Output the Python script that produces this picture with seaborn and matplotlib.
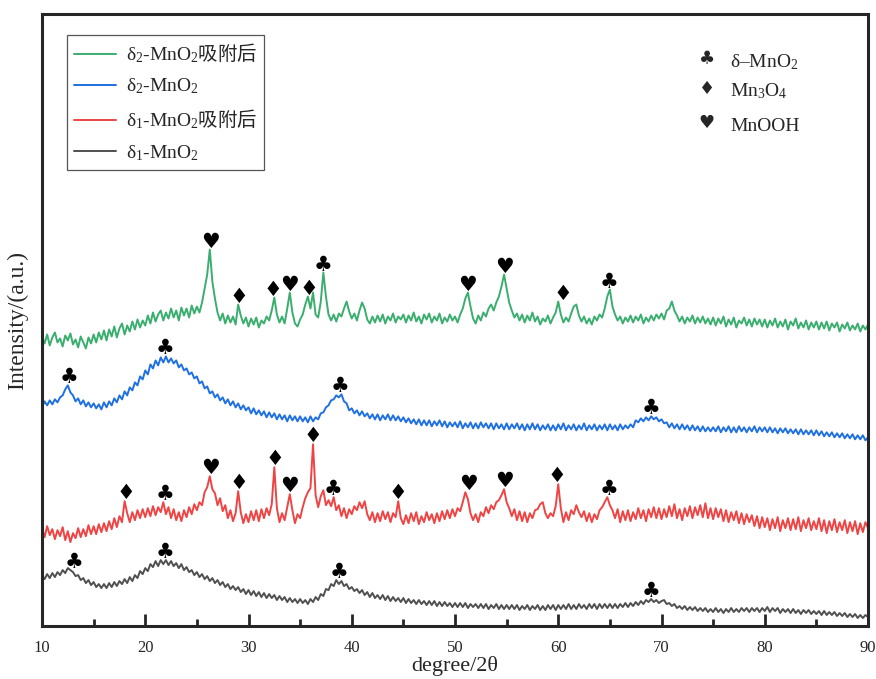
import numpy as np
import pandas as pd
import matplotlib
matplotlib.use('Agg')
import matplotlib.pyplot as plt
import seaborn as sns

# 2theta sampling grid (0.25 degree steps, 10..90)
two_theta = np.linspace(10, 90, 321)

# intensities (a.u., offset stacked), one row = 5 degrees
green_vals = [
    290, 283, 292, 281, 289, 294, 284, 288, 280, 291, 286, 293, 282, 287, 279, 290, 284, 278, 289, 283,
    292, 284, 294, 287, 296, 286, 297, 290, 300, 289, 298, 303, 292, 301, 295, 305, 297, 307, 299, 306,
    301, 311, 303, 314, 305, 312, 316, 306, 314, 308, 318, 309, 316, 306, 319, 311, 318, 309, 321, 313,
    320, 314, 324, 338, 352, 377, 345, 328, 314, 306, 313, 303, 311, 304, 310, 302, 322, 311, 303, 309,
    300, 308, 302, 309, 299, 306, 303, 310, 306, 316, 329, 312, 304, 310, 303, 318, 334, 314, 303, 300,
    307, 312, 322, 330, 318, 334, 312, 309, 325, 354, 330, 312, 306, 312, 305, 313, 310, 318, 325, 315,
    308, 313, 306, 316, 324, 318, 307, 303, 310, 304, 311, 305, 312, 303, 310, 306, 313, 304, 310, 307,
    312, 304, 311, 306, 314, 305, 310, 303, 312, 307, 313, 304, 310, 306, 313, 303, 309, 305, 312, 306,
    310, 304, 312, 318, 328, 334, 320, 308, 303, 311, 306, 314, 310, 318, 322, 316, 324, 330, 340, 352,
    338, 324, 316, 309, 313, 306, 312, 304, 311, 306, 314, 305, 310, 302, 308, 305, 311, 303, 309, 314,
    325, 312, 304, 309, 305, 313, 320, 322, 311, 305, 310, 303, 308, 302, 310, 306, 312, 309, 318, 330,
    337, 320, 312, 306, 310, 303, 309, 305, 311, 304, 310, 306, 312, 303, 309, 305, 311, 306, 312, 308,
    313, 307, 316, 318, 325, 316, 311, 305, 310, 303, 309, 305, 311, 303, 309, 304, 310, 303, 308, 302,
    309, 301, 308, 303, 310, 300, 307, 302, 309, 299, 306, 303, 309, 301, 307, 300, 308, 302, 307, 300,
    307, 299, 306, 301, 308, 299, 305, 300, 307, 297, 305, 301, 308, 298, 304, 299, 306, 297, 304, 299,
    305, 297, 304, 298, 305, 296, 303, 299, 304, 295, 302, 298, 304, 296, 301, 297, 303, 295, 301, 297,
    302,
]

blue_vals = [
    219, 225, 221, 226, 222, 227, 224, 229, 231, 237, 241, 234, 231, 225, 228, 222, 226, 220, 224, 219,
    223, 218, 222, 217, 224, 219, 225, 221, 228, 224, 231, 227, 235, 231, 239, 236, 244, 241, 250, 247,
    256, 252, 262, 258, 266, 261, 269, 264, 270, 264, 268, 263, 266, 259, 262, 256, 258, 252, 254, 248,
    250, 243, 245, 238, 240, 233, 235, 229, 232, 226, 229, 223, 227, 221, 225, 219, 223, 217, 221, 216,
    219, 213, 218, 212, 216, 211, 215, 209, 214, 209, 213, 207, 212, 207, 211, 205, 211, 206, 210, 205,
    210, 205, 209, 204, 210, 205, 209, 207, 213, 214, 219, 221, 226, 227, 231, 229, 232, 225, 223, 216,
    218, 213, 216, 211, 215, 210, 213, 208, 212, 207, 212, 206, 211, 207, 212, 206, 211, 206, 210, 205,
    209, 204, 208, 203, 207, 202, 207, 201, 206, 201, 206, 200, 205, 201, 206, 200, 205, 199, 204, 200,
    204, 199, 205, 198, 203, 199, 204, 198, 203, 198, 204, 199, 203, 198, 203, 197, 203, 198, 202, 197,
    203, 197, 202, 198, 203, 197, 202, 196, 202, 197, 203, 197, 202, 196, 201, 197, 202, 196, 201, 196,
    202, 197, 203, 196, 201, 197, 202, 196, 201, 197, 203, 196, 201, 197, 202, 196, 201, 197, 202, 196,
    202, 197, 201, 196, 202, 197, 201, 198, 202, 199, 206, 204, 208, 205, 209, 206, 210, 207, 209, 205,
    207, 203, 204, 199, 203, 198, 202, 197, 202, 197, 201, 196, 201, 196, 200, 195, 200, 195, 199, 195,
    199, 195, 200, 194, 199, 195, 200, 194, 199, 194, 200, 195, 199, 194, 199, 195, 200, 194, 199, 195,
    199, 194, 199, 194, 198, 193, 198, 194, 198, 193, 197, 193, 197, 192, 197, 192, 196, 192, 196, 191,
    196, 191, 195, 190, 194, 190, 194, 189, 193, 189, 193, 188, 192, 188, 192, 187, 191, 187, 191, 186,
    189,
]

red_vals = [
    98, 89, 100, 91, 97, 87, 96, 90, 99, 86, 95, 84, 93, 88, 98, 89, 97, 90, 101, 92,
    100, 92, 102, 94, 103, 95, 105, 97, 108, 99, 110, 104, 125, 113, 104, 114, 106, 116, 108, 117,
    109, 118, 110, 120, 111, 119, 114, 124, 112, 119, 108, 117, 106, 114, 105, 116, 109, 119, 112, 122,
    116, 124, 121, 134, 139, 150, 137, 133, 121, 128, 115, 121, 108, 116, 105, 113, 135, 114, 103, 112,
    104, 115, 106, 116, 105, 117, 108, 118, 111, 122, 159, 118, 104, 113, 106, 119, 132, 116, 103, 112,
    108, 119, 128, 134, 138, 182, 131, 119, 130, 136, 121, 126, 120, 129, 116, 121, 110, 118, 108, 117,
    112, 120, 116, 124, 118, 125, 112, 106, 114, 104, 113, 105, 115, 107, 114, 104, 113, 109, 125, 108,
    102, 111, 103, 113, 105, 114, 102, 110, 104, 114, 106, 112, 103, 113, 105, 115, 107, 116, 108, 117,
    110, 118, 115, 124, 134, 127, 113, 106, 112, 104, 114, 110, 119, 113, 121, 117, 124, 126, 131, 137,
    124, 118, 110, 117, 106, 115, 105, 114, 104, 113, 108, 116, 117, 122, 124, 113, 108, 113, 110, 120,
    142, 118, 104, 114, 106, 116, 112, 121, 114, 109, 115, 105, 113, 104, 112, 107, 116, 119, 124, 129,
    121, 116, 108, 117, 104, 115, 106, 116, 105, 114, 107, 118, 108, 116, 105, 117, 109, 119, 108, 118,
    107, 117, 109, 120, 110, 122, 108, 117, 106, 118, 110, 120, 108, 119, 111, 121, 109, 123, 108, 118,
    107, 118, 109, 117, 105, 116, 104, 114, 106, 115, 103, 113, 102, 112, 104, 111, 100, 110, 98, 109,
    99, 108, 96, 107, 98, 109, 95, 106, 98, 108, 96, 107, 97, 109, 95, 106, 98, 108, 96, 105,
    97, 108, 95, 106, 93, 105, 96, 107, 94, 104, 96, 106, 93, 104, 95, 105, 92, 103, 94, 104,
    98,
]

gray_vals = [
    51, 47, 52, 48, 53, 49, 54, 51, 56, 53, 58, 56, 54, 50, 51, 46, 48, 43, 46, 41,
    44, 39, 42, 38, 42, 38, 43, 39, 44, 40, 45, 42, 47, 43, 49, 45, 51, 48, 55, 52,
    58, 55, 62, 59, 65, 60, 66, 62, 66, 61, 65, 60, 63, 58, 62, 56, 59, 54, 56, 51,
    54, 49, 52, 47, 50, 45, 48, 43, 46, 41, 44, 39, 42, 37, 40, 36, 39, 34, 37, 32,
    36, 31, 35, 30, 34, 29, 33, 28, 32, 28, 31, 26, 30, 26, 29, 24, 28, 24, 27, 23,
    27, 23, 26, 22, 27, 24, 29, 26, 32, 30, 37, 36, 42, 40, 46, 42, 45, 40, 42, 37,
    39, 35, 37, 33, 36, 31, 34, 29, 33, 28, 31, 27, 31, 26, 30, 25, 29, 25, 28, 24,
    28, 23, 27, 23, 26, 22, 26, 22, 25, 21, 25, 21, 25, 20, 24, 20, 24, 20, 23, 19,
    23, 19, 23, 19, 23, 18, 22, 19, 22, 18, 22, 18, 22, 17, 21, 18, 22, 17, 21, 17,
    21, 17, 21, 17, 21, 16, 20, 17, 21, 16, 20, 17, 21, 16, 20, 16, 21, 17, 21, 16,
    21, 17, 21, 17, 22, 17, 21, 17, 22, 18, 21, 17, 22, 18, 22, 17, 22, 18, 22, 18,
    22, 18, 22, 18, 22, 19, 23, 19, 23, 20, 24, 21, 25, 22, 26, 24, 27, 24, 26, 23,
    25, 26, 22, 23, 20, 22, 18, 20, 17, 20, 16, 19, 16, 19, 15, 18, 15, 18, 14, 17,
    14, 18, 14, 17, 13, 17, 14, 18, 14, 17, 14, 18, 15, 18, 14, 18, 15, 18, 14, 18,
    15, 19, 14, 18, 15, 18, 13, 17, 14, 17, 13, 17, 13, 16, 12, 16, 13, 16, 12, 15,
    12, 15, 11, 15, 11, 14, 11, 14, 10, 13, 10, 13, 9, 12, 9, 12, 8, 11, 8, 11,
    9,
]

# Chinese part goes through \mathsf, which is mapped to the CJK font below
series_names = ['δ$_2$-MnO$_2\\mathsf{吸附后}$', 'δ$_2$-MnO$_2$',
                'δ$_1$-MnO$_2\\mathsf{吸附后}$', 'δ$_1$-MnO$_2$']
series_colors = ['#3aae6e', '#1f70e0', '#f04444', '#505050']

CLUB, DIAMOND, HEART = '\u2663', '\u2666', '\u2665'

# phase marks (2theta, symbol) per pattern
green_marks = [(26.3, HEART), (29.1, DIAMOND), (32.4, DIAMOND), (34.0, HEART), (35.8, DIAMOND),
               (37.2, CLUB), (51.2, HEART), (54.8, HEART), (60.4, DIAMOND), (64.9, CLUB)]
blue_marks = [(12.6, CLUB), (21.9, CLUB), (38.9, CLUB), (69.0, CLUB)]
red_marks = [(18.1, DIAMOND), (21.9, CLUB), (26.3, HEART), (29.1, DIAMOND), (32.6, DIAMOND),
             (34.0, HEART), (36.2, DIAMOND), (38.2, CLUB), (44.5, DIAMOND), (51.3, HEART),
             (54.8, HEART), (59.9, DIAMOND), (64.9, CLUB)]
gray_marks = [(13.1, CLUB), (21.9, CLUB), (38.8, CLUB), (69.0, CLUB)]

phase_symbols = [CLUB, DIAMOND, HEART]
phase_names = ['δ–MnO$_2$', 'Mn$_3$O$_4$', 'MnOOH']

all_vals = [green_vals, blue_vals, red_vals, gray_vals]
all_marks = [green_marks, blue_marks, red_marks, gray_marks]
for v in all_vals:
    assert len(v) == len(two_theta)

df = pd.concat([pd.DataFrame({'2theta': two_theta, 'I': v, 'sample': n})
                for v, n in zip(all_vals, series_names)], ignore_index=True)

sns.set_style('ticks')
plt.rcParams['font.family'] = ['Liberation Serif', 'Noto Sans CJK SC', 'DejaVu Sans']
plt.rcParams['mathtext.fontset'] = 'custom'
plt.rcParams['mathtext.rm'] = 'Liberation Serif'
plt.rcParams['mathtext.it'] = 'Liberation Serif:italic'
plt.rcParams['mathtext.bf'] = 'Liberation Serif:bold'
plt.rcParams['mathtext.sf'] = 'Noto Sans CJK SC'
plt.rcParams['mathtext.default'] = 'rm'

fig = plt.figure(figsize=(8.76, 6.79), dpi=100)
ax = fig.add_axes([42 / 876, 53 / 679, 826 / 876, 612 / 679])

sns.lineplot(data=df, x='2theta', y='I', hue='sample', hue_order=series_names,
             palette=series_colors, estimator=None, sort=False, linewidth=1.4, ax=ax)

# phase symbols over the peaks
for vals, marks in zip(all_vals, all_marks):
    arr = np.asarray(vals)
    for deg, sym in marks:
        win = (two_theta >= deg - 0.4) & (two_theta <= deg + 0.4)
        ax.text(deg, arr[win].max() - 2, sym, ha='center', va='bottom',
                fontsize=15, family='DejaVu Sans', color='black')

# key for the phase symbols (top right)
key_y = [0.913, 0.866, 0.809]
for sym, name, yy in zip(phase_symbols, phase_names, key_y):
    ax.text(0.805, yy + 0.004, sym, transform=ax.transAxes, ha='center', va='baseline',
            fontsize=13, family='DejaVu Sans')
    ax.text(0.833, yy, name, transform=ax.transAxes, ha='left', va='baseline', fontsize=14)

handles, labels = ax.get_legend_handles_labels()
leg = ax.legend(handles, labels, loc='upper left', bbox_to_anchor=(0.030, 0.966),
                borderaxespad=0, frameon=True, fancybox=False, framealpha=1,
                edgecolor='#555555', fontsize=14, handlelength=2.2, labelspacing=0.6,
                handletextpad=0.5, borderpad=0.35)
leg.get_frame().set_linewidth(0.9)

ax.set_xlim(10, 90)
ax.set_ylim(0, 613)
ax.set_xticks(np.arange(10, 91, 10))
ax.set_xticks(np.arange(15, 90, 10), minor=True)
ax.set_yticks([])
ax.tick_params(axis='x', which='major', direction='in', length=9, width=2, labelsize=12, pad=10)
ax.tick_params(axis='x', which='minor', direction='in', length=5, width=2)
for s in ax.spines.values():
    s.set_linewidth(2.2)
    s.set_visible(True)
ax.set_xlabel('degree/2θ', fontsize=16, labelpad=0)
ax.set_ylabel('Intensity/(a.u.)', fontsize=17, labelpad=10)

fig.savefig('out.png', dpi=100)
